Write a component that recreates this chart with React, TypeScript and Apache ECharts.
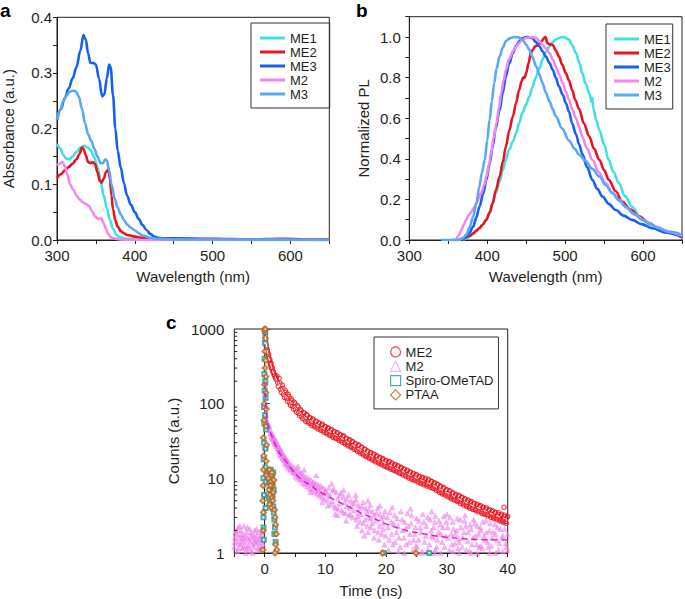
import React, { useEffect, useRef } from 'react';
import * as echarts from 'echarts';

const FONT = '"Liberation Sans", Arial, Helvetica, sans-serif';
const INK = '#231f20';

// ---------- Panel a: absorbance [nm, a.u.] ----------
const absME1 = [[300,0.173],[304,0.165],[308,0.153],[312,0.146],[316,0.145],[320,0.15],[325,0.158],[330,0.166],[335,0.169],[340,0.166],[344,0.16],[348,0.148],[352,0.131],[356,0.106],[360,0.08],[364,0.058],[368,0.036],[372,0.02],[376,0.01],[380,0.005],[390,0.002],[400,0.001],[450,0],[500,0],[550,0],[600,0],[650,0]];
const absME2 = [[300,0.111],[305,0.118],[310,0.125],[315,0.131],[320,0.137],[325,0.145],[329,0.155],[332,0.166],[334,0.164],[337,0.152],[340,0.14],[343,0.138],[346,0.14],[349,0.136],[352,0.122],[355,0.106],[357,0.103],[360,0.11],[363,0.122],[366,0.127],[368,0.11],[370,0.08],[372,0.055],[375,0.035],[378,0.024],[382,0.016],[386,0.012],[390,0.009],[400,0.006],[410,0.004],[420,0.003],[450,0.003],[470,0.002],[500,0.002],[550,0.001],[590,0.002],[620,0.001],[650,0.001]];
const absME3 = [[300,0.215],[305,0.235],[310,0.255],[315,0.272],[320,0.29],[325,0.31],[330,0.34],[334,0.368],[337,0.36],[340,0.335],[343,0.318],[347,0.318],[350,0.315],[354,0.29],[358,0.258],[361,0.262],[364,0.29],[367,0.315],[369,0.31],[372,0.26],[375,0.2],[378,0.16],[382,0.13],[386,0.102],[390,0.08],[395,0.063],[400,0.05],[405,0.038],[410,0.027],[415,0.018],[420,0.011],[425,0.006],[430,0.004],[440,0.002],[450,0.003],[500,0.001],[600,0.001],[650,0]];
const absM2 = [[300,0.134],[303,0.137],[307,0.14],[310,0.133],[313,0.118],[317,0.1],[321,0.09],[325,0.08],[329,0.073],[333,0.068],[337,0.065],[341,0.061],[345,0.052],[349,0.042],[353,0.038],[357,0.039],[360,0.03],[363,0.02],[366,0.01],[370,0.004],[380,0.001],[400,0],[500,0],[650,0]];
const absM3 = [[300,0.216],[304,0.234],[308,0.249],[312,0.259],[316,0.266],[320,0.268],[324,0.267],[328,0.258],[332,0.236],[336,0.21],[340,0.19],[344,0.178],[348,0.164],[352,0.15],[356,0.138],[359,0.138],[362,0.145],[364,0.143],[367,0.125],[370,0.1],[374,0.075],[378,0.058],[382,0.046],[386,0.036],[390,0.028],[395,0.022],[400,0.017],[405,0.012],[410,0.008],[420,0.004],[430,0.002],[450,0.001],[650,0]];

// ---------- Panel b: normalized PL [nm, PL] ----------
const plME1 = [[369,0],[373,0.006],[377,0.016],[382,0.03],[386,0.049],[390,0.06],[394,0.074],[398,0.1],[403,0.132],[407,0.18],[411,0.23],[416,0.29],[420,0.345],[424,0.395],[428,0.444],[433,0.485],[437,0.526],[441,0.575],[445,0.625],[450,0.668],[454,0.707],[458,0.752],[462,0.798],[467,0.845],[471,0.888],[475,0.925],[480,0.954],[484,0.975],[488,0.987],[492,0.995],[496,1.0],[500,0.997],[505,0.987],[509,0.96],[514,0.921],[518,0.875],[522,0.822],[526,0.772],[531,0.724],[534,0.68],[535,0.7],[536,0.65],[540,0.59],[544,0.54],[550,0.47],[556,0.395],[562,0.335],[569,0.28],[577,0.215],[586,0.164],[596,0.115],[607,0.082],[620,0.055],[635,0.037],[650,0.025]];
const plME2 = [[364,0],[369,0.005],[373,0.013],[378,0.022],[382,0.033],[386,0.045],[390,0.058],[394,0.075],[399,0.099],[403,0.135],[407,0.181],[411,0.245],[416,0.3125],[420,0.385],[424,0.46],[428,0.535],[433,0.609],[437,0.675],[441,0.74],[444,0.78],[446,0.8],[448,0.8],[450,0.822],[453,0.87],[456,0.92],[459,0.94],[462,0.955],[465,0.96],[467,0.967],[470,0.98],[473,0.995],[475,1.0],[477,0.97],[480,0.965],[484,0.962],[488,0.935],[492,0.905],[496,0.865],[501,0.822],[505,0.785],[509,0.74],[513,0.69],[518,0.645],[524,0.575],[531,0.51],[537,0.45],[544,0.395],[550,0.345],[556,0.296],[565,0.24],[573,0.189],[584,0.15],[595,0.115],[607,0.085],[620,0.058],[635,0.033],[650,0.013]];
const plME3 = [[356,0],[362,0],[368,0.006],[373,0.016],[377,0.035],[382,0.066],[386,0.11],[390,0.164],[395,0.23],[399,0.296],[403,0.375],[407,0.46],[411,0.55],[416,0.641],[420,0.725],[424,0.806],[428,0.868],[433,0.921],[437,0.955],[441,0.979],[445,0.993],[450,1.0],[454,0.999],[458,0.995],[462,0.977],[467,0.954],[471,0.93],[475,0.905],[480,0.872],[484,0.839],[488,0.8],[492,0.757],[497,0.715],[501,0.674],[505,0.632],[509,0.575],[514,0.52],[518,0.47],[522,0.425],[528,0.36],[535,0.296],[541,0.253],[548,0.214],[556,0.178],[565,0.148],[575,0.12],[586,0.099],[598,0.078],[612,0.058],[630,0.036],[650,0.016]];
const plM2 = [[360,0],[363,0.02],[367,0.049],[370,0.075],[373,0.099],[376,0.12],[380,0.14],[383,0.16],[386,0.181],[389,0.205],[392,0.23],[396,0.27],[399,0.3125],[402,0.37],[405,0.428],[408,0.5],[412,0.576],[415,0.65],[418,0.724],[421,0.785],[424,0.839],[428,0.89],[433,0.929],[437,0.952],[441,0.97],[445,0.985],[450,0.995],[456,1.0],[463,0.995],[467,0.98],[471,0.962],[475,0.944],[480,0.921],[484,0.89],[488,0.855],[492,0.818],[497,0.773],[501,0.73],[505,0.691],[509,0.645],[514,0.6],[518,0.555],[522,0.51],[528,0.45],[535,0.395],[543,0.335],[552,0.28],[560,0.235],[569,0.197],[579,0.158],[590,0.123],[603,0.092],[616,0.066],[633,0.04],[650,0.02]];
const plM3 = [[341,0],[355,0],[364,0],[368,0.008],[373,0.025],[377,0.06],[382,0.115],[386,0.18],[390,0.263],[393,0.33],[397,0.395],[400,0.49],[403,0.592],[406,0.685],[409,0.773],[412,0.845],[416,0.905],[420,0.948],[424,0.979],[428,0.992],[433,0.999],[437,1.0],[441,0.997],[446,0.984],[450,0.962],[454,0.938],[458,0.9],[463,0.855],[467,0.815],[471,0.773],[475,0.728],[480,0.683],[484,0.645],[488,0.61],[496,0.55],[505,0.49],[512,0.45],[518,0.42],[526,0.39],[535,0.35],[544,0.3125],[552,0.27],[561,0.23],[569,0.195],[578,0.164],[588,0.13],[599,0.099],[610,0.077],[620,0.058],[635,0.04],[650,0.025]];

// ---------- Panel c: time-resolved PL [ns, counts] ----------
const trME2 = [[0,1000],[0.05,900],[0.1,800],[0.15,700],[0.2,640],[0.3,560],[0.4,500],[0.5,470],[0.6,430],[0.7,400],[0.8,375],[0.9,350],[1.0,330],[1.1,310],[1.2,290],[1.35,270],[1.5,250],[1.65,235],[1.8,222],[1.9,212],
[0.25,600],[0.45,520],[0.65,450],[0.85,390],[1.05,345],[1.25,300],[1.45,265],[1.7,240],
[2,235],[2.5,188],[3,160],[3.5,141],[4,124],[4.5,109],[5,99],[5.5,90],[6,80],[6.5,75],[7,70],[7.5,64],[8,62],[8.5,58],[9,55],[9.5,53],[10,49],[10.5,47],[11,45],[11.5,42],[12,41],[12.5,38],[13,37],[13.5,34],[14,33],[14.5,31],[15,29],[15.5,28],[16,26],[16.5,24.5],[17,23],[17.5,22],[18,21],[18.5,20],[19,19],[19.5,18.3],[20,17.3],[20.5,16.8],[21,16],[21.5,15.3],[22,14.7],[22.5,14],[23,13.3],[23.5,12.8],[24,12.1],[24.5,11.6],[25,11.2],[25.5,10.6],[26,10.3],[26.5,10],[27,9.7],[27.5,9.1],[28,8.7],[28.5,8.3],[29,7.8],[29.5,7.5],[30,7.0],[30.5,6.8],[31,6.4],[31.5,6.1],[32,5.9],[32.5,5.6],[33,5.3],[33.5,5.1],[34,4.9],[34.5,4.6],[35,4.5],[35.5,4.3],[36,4.1],[36.5,4.0],[37,3.8],[37.5,3.7],[38,3.5],[38.5,3.45],[39,3.3],[39.5,3.2],[40,3.1],
[2.25,170],[2.75,142],[3.25,122],[3.75,108],[4.25,95],[4.75,85],[5.25,77],[5.75,69],[6.25,63],[6.75,58],[7.25,55],[7.75,51],[8.25,49],[8.75,46],[9.25,44],[9.75,41.5],[10.25,39.5],[10.75,37.5],[11.25,35.5],[11.75,34],[12.25,32],[12.75,30.5],[13.25,29],[13.75,27.3],[14.25,26],[14.75,24.5],[15.25,23],[15.75,21.8],[16.25,20.5],[16.75,19.4],[17.25,18.5],[17.75,17.6],[18.25,16.7],[18.75,16],[19.25,15.2],[19.75,14.5],[20.25,13.9],[20.75,13.3],[21.25,12.8],[21.75,12.2],[22.25,11.7],[22.75,11.1],[23.25,10.6],[23.75,10.1],[24.25,9.7],[24.75,9.3],[25.25,8.9],[25.75,8.5],[26.25,8.2],[26.75,7.9],[27.25,7.6],[27.75,7.3],[28.25,6.9],[28.75,6.5],[29.25,6.2],[29.75,5.9],[30.25,5.6],[30.75,5.3],[31.25,5.1],[31.75,4.9],[32.25,4.6],[32.75,4.4],[33.25,4.2],[33.75,4.0],[34.25,3.85],[34.75,3.7],[35.25,3.55],[35.75,3.4],[36.25,3.3],[36.75,3.15],[37.25,3.0],[37.75,2.9],[38.25,2.8],[38.75,2.7],[39.25,2.6],[39.75,2.5],
[2.37,218],[2.87,177],[3.37,151],[3.87,133],[4.37,116],[4.87,104],[5.37,94],[5.87,84],[6.37,76],[6.87,71],[7.37,65.5],[7.87,61],[8.37,58],[8.87,55],[9.37,52],[9.87,49.4],[10.37,46.8],[10.87,44.4],[11.37,42.1],[11.87,40.2],[12.37,38.5],[12.87,36.4],[13.37,34.3],[13.87,32.4],[14.37,30.7],[14.87,29.1],[15.37,27.6],[15.87,26],[16.37,24.4],[16.87,23.1],[17.37,21.8],[17.87,20.8],[18.37,19.8],[18.87,18.8],[19.37,18],[19.87,17.2],[20.37,16.4],[20.87,15.7],[21.37,15.1],[21.87,14.5],[22.37,13.8],[22.87,13.2],[23.37,12.6],[23.87,12],[24.37,11.4],[24.87,10.9],[25.37,10.5],[25.87,10.1],[26.37,9.7],[26.87,9.4],[27.37,9.0],[27.87,8.6],[28.37,8.2],[28.87,7.8],[29.37,7.4],[29.87,7.0],[30.37,6.7],[30.87,6.3],[31.37,6.0],[31.87,5.8],[32.37,5.5],[32.87,5.25],[33.37,5.0],[33.87,4.8],[34.37,4.6],[34.87,4.4],[35.37,4.2],[35.87,4.05],[36.37,3.9],[36.87,3.75],[37.37,3.6],[37.87,3.45],[38.37,3.3],[38.87,3.2],[39.37,3.1],[39.87,3.0],
[2.12,193],[2.62,156],[3.12,133],[3.62,118],[4.12,103],[4.62,92],[5.12,83],[5.62,74.5],[6.12,67],[6.62,62.5],[7.12,58],[7.62,54.3],[8.12,51.5],[8.62,48.8],[9.12,46],[9.62,43.7],[10.12,41.4],[10.62,39.3],[11.12,37.3],[11.62,35.6],[12.12,34],[12.62,32.2],[13.12,30.4],[13.62,28.7],[14.12,27.1],[14.62,25.8],[15.12,24.4],[15.62,23],[16.12,21.6],[16.62,20.4],[17.12,19.3],[17.62,18.4],[18.12,17.5],[18.62,16.7],[19.12,15.9],[19.62,15.2],[20.12,14.5],[20.62,13.9],[21.12,13.3],[21.62,12.8],[22.12,12.2],[22.62,11.7],[23.12,11.1],[23.62,10.6],[24.12,10.1],[24.62,9.7],[25.12,9.3],[25.62,8.9],[26.12,8.6],[26.62,8.3],[27.12,8.0],[27.62,7.6],[28.12,7.3],[28.62,6.9],[29.12,6.5],[29.62,6.2],[30.12,5.9],[30.62,5.6],[31.12,5.3],[31.62,5.1],[32.12,4.9],[32.62,4.65],[33.12,4.4],[33.62,4.2],[34.12,4.05],[34.62,3.85],[35.12,3.7],[35.62,3.6],[36.12,3.45],[36.62,3.3],[37.12,3.2],[37.62,3.05],[38.12,2.95],[38.62,2.85],[39.12,2.75],[39.62,2.65],
[39.4,4.1],[-0.05,6],[0.05,25]];
const fitME2 = [[0.1,800],[0.5,480],[1,330],[1.5,250],[2,205],[3,145],[4,112],[5,90],[6,73],[7,63],[8,56],[9,50],[10,45],[12,37],[14,29.5],[16,23.5],[18,19],[20,15.8],[22,13.3],[24,11],[26,9.3],[28,7.9],[30,6.4],[32,5.3],[34,4.4],[36,3.75],[38,3.2],[40,2.8]];
const trM2 = [[-5,1.2],[-4.8,1.9],[-4.7,1.45],[-4.5,1.05],[-4.4,2.2],[-4.2,1.6],[-4.0,1.3],[-3.9,2.0],[-3.7,1.15],[-3.6,1.75],[-3.4,2.3],[-3.3,1.45],[-3.1,1.0],[-3.0,1.9],[-2.8,1.6],[-2.7,1.25],[-2.5,2.1],[-2.4,1.4],[-2.2,1.05],[-2.1,1.8],[-1.9,1.55],[-1.8,1.2],[-1.6,2.0],[-1.5,1.35],[-1.3,1.7],[-1.2,1.1],[-1.0,1.9],[-0.9,1.5],[-0.7,1.25],[-0.6,1.75],[-0.4,1.4],[-0.3,2.0],[-4.9,1.6],[-4.3,1.35],[-3.8,1.55],[-3.2,1.7],[-2.6,1.5],[-2.0,1.3],[-1.4,1.5],[-0.8,1.1],[-0.2,1.6],[-4.6,1.75],[-3.5,1.2],[-2.3,1.65],[-1.1,1.4],[-0.5,1.15],
[-4.95,1.4],[-4.65,2.0],[-4.35,1.15],[-4.05,1.8],[-3.75,1.4],[-3.45,1.6],[-3.15,1.25],[-2.85,2.2],[-2.55,1.15],[-2.25,1.9],[-1.95,1.0],[-1.65,1.45],[-1.35,2.1],[-1.05,1.2],[-0.75,1.6],[-0.45,1.9],[-0.25,1.3],[-4.1,2.3],[-3.0,1.1],[-1.7,1.7],
[0,190],[0.05,150],[0.1,120],[0.15,95],[0.2,80],[0.25,70],[0.3,62],[0.35,58],[0.4,55],[-0.05,8],[-0.1,4],[0.05,12],
[0.5,52],[0.6,48],[0.7,45],[0.8,50],[0.9,40],[1.0,43],[1.1,36],[1.2,40],[1.3,33],[1.4,37],[1.5,31],[1.6,35],[1.7,29],[1.8,32],[1.9,27],[2.0,30],
[1.05,39],[1.25,35],[1.45,34],[1.65,31],[1.85,29],[2.05,27],[2.25,25],[2.45,23],[2.65,22],[2.85,20.5],[3.05,19],[3.25,18],[3.45,17],[3.65,16],[3.85,15],[4.1,14.5],[4.3,13.8],[4.5,13.2],[4.7,12.6],[4.9,12.2],
[2.1,25],[2.2,28],[2.3,23],[2.4,26],[2.5,21],[2.6,24],[2.7,20],[2.8,23],[2.9,18.5],[3.0,21],[3.1,17.5],[3.2,20],[3.3,16],[3.4,19],[3.5,15.5],[3.6,18],[3.7,14.5],[3.8,17],[3.9,13.5],[4.0,16],[4.2,13],[4.4,15],[4.6,12],[4.8,14],[5.0,11.5],
[5.2,13.5],[5.4,10],[5.6,12.5],[5.8,9.5],[6.0,12],[6.2,8.7],[6.4,11],[6.6,8.3],[6.8,10.5],[7.0,7.8],[7.2,10],[7.4,7.3],[7.6,9.5],[7.8,7],[8.0,9],[8.2,6.6],[8.4,8.6],[8.6,6.2],[8.8,8.2],[9.0,5.9],[9.2,7.9],[9.4,5.6],[9.6,7.5],[9.8,5.3],[10.0,7.1],[5.5,14.5],[6.5,13],[7.5,6.5],[8.5,11],[9.5,4.8],
[5.1,10.5],[5.3,12],[5.7,10.8],[5.9,11.5],[6.1,9.8],[6.3,10.2],[6.7,9.4],[6.9,8.8],[7.1,9.2],[7.3,8.5],[7.7,8.2],[7.9,8.6],[8.1,7.5],[8.3,7.9],[8.7,7.2],[8.9,6.8],[9.1,7.0],[9.3,6.4],[9.7,6.3],[9.9,6.7],
[10.3,5],[10.6,7.5],[10.9,4.5],[11.2,6.8],[11.5,4.2],[11.8,6.5],[12.1,3.9],[12.4,6],[12.7,3.7],[13,5.6],[13.3,3.4],[13.6,5.3],[13.9,3.2],[14.2,5],[14.5,3.0],[14.8,4.7],[15.1,2.8],[15.4,4.4],[15.7,2.6],[16,4.2],[16.3,2.5],[16.6,4],[16.9,2.3],[17.2,3.8],[17.5,2.2],[17.8,3.6],[18.1,2.0],[18.4,3.4],[18.7,1.9],[19,3.3],[19.3,1.8],[19.6,3.1],[19.9,1.7],[11,8.5],[13,7],[15,6],[17,5],[19,4.3],[12,3.2],[16,2.0],[18,1.6],[14,4.0],[10.5,6.0],[15.5,3.5],[17.5,2.9],[19.5,2.5],
[10.1,6.5],[10.4,4.3],[10.8,5.8],[11.1,4.9],[11.4,7.2],[11.7,4.0],[12.0,5.4],[12.3,4.6],[12.6,6.4],[12.9,3.5],[13.2,4.8],[13.5,4.2],[13.8,6.0],[14.1,3.3],[14.4,4.5],[14.7,3.7],[15.0,5.2],[15.3,3.1],[15.6,4.0],[15.9,3.3],[16.2,4.8],[16.5,2.8],[16.8,3.6],[17.1,3.0],[17.4,4.4],[17.7,2.5],[18.0,3.2],[18.3,2.7],[18.6,4.0],[18.9,2.3],[19.2,2.9],[19.5,2.1],[19.8,3.6],[13.4,2.7],[15.2,2.3],[17.0,1.9],[18.8,1.5],[11.6,3.3],[16.4,1.7],[19.7,1.3],
[20.2,3],[20.5,1.5],[20.8,2.6],[21.1,1.3],[21.4,3.2],[21.7,1.9],[22,2.3],[22.3,1.2],[22.6,2.8],[22.9,1.6],[23.2,2.1],[23.5,3.4],[23.8,1.4],[24.1,2.5],[24.4,1.1],[24.7,1.8],[25,2.9],[25.3,1.5],[25.6,2.2],[25.9,1.05],[26.2,2.6],[26.5,1.7],[26.8,3.0],[27.1,1.3],[27.4,2.0],[27.7,1.6],[28,2.6],[28.3,1.2],[28.6,1.9],[28.9,2.4],[29.2,1.4],[29.5,3.1],[29.8,1.7],[30.1,2.2],[30.4,1.1],[30.7,1.8],[31,2.6],[31.3,1.35],[31.6,2.0],[31.9,1.55],[32.2,2.8],[32.5,1.2],[32.8,1.9],[33.1,2.3],[33.4,1.45],[33.7,1.05],[34,2.1],[34.3,1.6],[34.6,2.5],[34.9,1.3],[35.2,1.8],[35.5,2.2],[35.8,1.15],[36.1,1.7],[36.4,2.7],[36.7,1.4],[37,2.0],[37.3,1.25],[37.6,1.9],[37.9,2.4],[38.2,1.5],[38.5,1.1],[38.8,2.1],[39.1,1.6],[39.4,2.6],[39.7,1.35],[40,1.8],[21,4.1],[24,3.9],[27.5,3.6],[30,3.3],[33,3.2],[36,3.4],[39,3.0],[23,1.0],[26,1.0],[29,1.0],[32,1.0],[35,1.0],[38,1.0],[20.4,1.1],[24.9,1.25],[28.1,1.1],[31.8,1.15],[35.6,1.25],[39.2,1.05],
[20.3,2.2],[20.6,3.5],[20.9,1.8],[21.2,2.5],[21.5,1.4],[21.8,2.9],[22.1,1.6],[22.4,3.6],[22.7,2.0],[23.0,2.6],[23.3,1.3],[23.6,2.3],[23.9,1.8],[24.2,3.2],[24.5,1.5],[24.8,2.2],[25.1,1.2],[25.4,2.7],[25.7,1.9],[26.0,3.3],[26.3,1.4],[26.6,2.3],[26.9,1.1],[27.2,2.8],[27.5,1.7],[27.8,2.2],[28.1,3.1],[28.4,1.5],[28.7,2.7],[29.0,1.8],[29.3,2.2],[29.6,1.2],[29.9,2.6],[30.2,1.6],[30.5,3.0],[30.8,1.3],[31.1,2.1],[31.4,1.8],[31.7,2.9],[32.0,1.4],[32.3,2.2],[32.6,1.6],[32.9,2.7],[33.2,1.1],[33.5,1.9],[33.8,2.4],[34.1,1.3],[34.4,2.8],[34.7,1.7],[35.0,2.3],[35.3,1.2],[35.6,2.0],[35.9,2.6],[36.2,1.5],[36.5,1.9],[36.8,1.2],[37.1,2.5],[37.4,1.6],[37.7,3.0],[38.0,1.8],[38.3,2.2],[38.6,1.35],[38.9,2.7],[39.2,1.7],[39.5,2.1],[39.8,1.2],[22,1.05],[25,1.0],[28,1.0],[31,1.05],[34,1.0],[37,1.0],[40,1.1]];
const fitM2 = [[0.05,190],[0.2,90],[0.4,60],[0.7,48],[1.0,40],[1.6,30],[2.4,22],[3.3,17.8],[4.4,13.5],[5.5,10.6],[6.6,9],[7.8,7.8],[9,6.6],[10,6.0],[12,4.9],[14,4.1],[16,3.4],[18,2.9],[20,2.45],[22,2.15],[24,1.95],[26,1.82],[28,1.7],[30,1.62],[32,1.57],[34,1.53],[36,1.51],[38,1.5],[40,1.5]];
const trSpiro = [[-0.15,1.5],[-0.2,3],[-0.1,6],[-0.2,10],[-0.15,18],[-0.1,30],[-0.05,55],[-0.1,90],[0,150],[-0.05,250],[0,400],[0.05,650],[0.1,900],[0.1,200],[0.15,120],[0.05,70],[0.2,45],[0.15,25],[0.1,14],[0.2,9],[-0.2,2.2],[0.15,4],
[0.6,12],[0.7,9],[0.8,11],[0.9,7],[1.0,13],[1.1,8],[1.2,10],[1.3,6],[1.4,12],[0.7,5.5],[1.0,4.8],[1.3,9],[1.5,7],[1.4,4.2],[0.9,5],
[1.5,3.5],[1.6,2.8],[1.7,2.2],[1.6,1.8],[1.8,1.4],[19.6,1],[27.1,1]];
const trPTAA = [[-0.3,1.1],[-0.25,2],[-0.2,3.5],[-0.3,5],[-0.25,8],[-0.2,13],[-0.15,20],[-0.2,35],[-0.1,60],[-0.05,100],[0,180],[0.05,300],[0.05,500],[0.1,750],[0,950],[0.1,1000],[0.15,380],[0.2,230],[0.2,140],[0.25,85],[0.2,50],[0.3,28],[0.25,17],[0.3,11],
[0.6,10],[0.7,7],[0.8,13],[0.9,6],[1.0,9],[1.1,11],[1.2,5.5],[1.3,8],[1.4,6.5],[1.5,9.5],[0.8,4.5],[1.1,4],[1.2,12],[0.95,8],[1.35,5],
[1.6,3.8],[1.7,3.0],[1.8,2.4],[1.9,1.8],[1.8,1.3],[2.0,1.1],[1.7,1.0],[19.4,1],[24.9,1]];
const logMinorTicks = [2,3,4,5,6,7,8,9,20,30,40,50,60,70,80,90,200,300,400,500,600,700,800,900];
const lifetimeLabels = [
  { t: 22.3, c: 23.4, text: '2.1 ns', color: '#e8141e' },
  { t: 15.7, c: 7.6, text: '0.2 ns', color: '#f27ff0' },
];

const COLORS: Record<string, string> = {
  ME1: '#40e0e0', ME2: '#e8141e', ME3: '#1560f0', M2: '#f584f0', M3: '#5aa8f5',
};
const C_M2PTS = '#f59cf2';
const C_SPIRO = '#22999a';
const C_PTAA = '#b5651d';
const C_M2FIT = '#d01cd0';

const lineNames = ['ME1', 'ME2', 'ME3', 'M2', 'M3'];

function axisBase(gridIndex: number) {
  return {
    gridIndex,
    axisLine: { show: true, lineStyle: { color: INK, width: 1 } },
    axisTick: { show: true, inside: false, length: 4, lineStyle: { color: INK } },
    splitLine: { show: false },
    nameLocation: 'middle',
    nameTextStyle: { fontSize: 15, color: INK, fontFamily: FONT },
  };
}

const isMult = (v: number, step: number) => Math.abs(v / step - Math.round(v / step)) < 1e-6;

export default function App() {
  const ref = useRef<HTMLDivElement>(null);
  useEffect(() => {
    if (!ref.current) return;
    const chart = echarts.init(ref.current, undefined, { renderer: 'svg' });
    const labelStyle = { fontSize: 15, color: INK, fontFamily: FONT };

    const lineSeries = (data: number[][], name: string, axis: number) => ({
      type: 'line', name, xAxisIndex: axis, yAxisIndex: axis, data,
      symbol: 'none', smooth: 0.35, smoothMonotone: 'x',
      lineStyle: { color: COLORS[name], width: 2.6 }, itemStyle: { color: COLORS[name] },
      silent: true,
    });

    const absData = [absME1, absME2, absME3, absM2, absM3];
    const plData = [plME1, plME2, plME3, plM2, plM3];

    const option: any = {
      animation: false,
      backgroundColor: '#fff',
      textStyle: { fontFamily: FONT },
      grid: [
        { left: 56.7, top: 17.3, width: 272.6, height: 222.7, show: true, borderColor: INK, borderWidth: 1, backgroundColor: 'transparent' },
        { left: 409.3, top: 16.7, width: 276, height: 223.3, show: true, borderColor: INK, borderWidth: 1, backgroundColor: 'transparent' },
        { left: 234.3, top: 329, width: 273.4, height: 224.3, show: true, borderColor: INK, borderWidth: 1, backgroundColor: 'transparent' },
      ],
      xAxis: [
        { ...axisBase(0), type: 'value', min: 300, max: 650, interval: 50, name: 'Wavelength (nm)', nameGap: 29,
          axisLabel: { ...labelStyle, margin: 8, formatter: (v: number) => (isMult(v, 100) ? String(v) : '') } },
        { ...axisBase(1), type: 'value', min: 300, max: 650, interval: 50, name: 'Wavelength (nm)', nameGap: 29,
          axisLabel: { ...labelStyle, margin: 8, formatter: (v: number) => (isMult(v, 100) ? String(v) : '') } },
        { ...axisBase(2), type: 'value', min: -5, max: 40, interval: 5, name: 'Time (ns)', nameGap: 30,
          axisLabel: { ...labelStyle, margin: 8, formatter: (v: number) => (isMult(v, 10) ? String(v) : '') } },
      ],
      yAxis: [
        { ...axisBase(0), type: 'value', min: 0, max: 0.4, interval: 0.05, name: 'Absorbance (a.u.)', nameGap: 41,
          axisLabel: { ...labelStyle, margin: 5, formatter: (v: number) => (isMult(v, 0.1) ? v.toFixed(1) : '') } },
        { ...axisBase(1), type: 'value', min: 0, max: 1.1, interval: 0.1, name: 'Normalized PL', nameGap: 38,
          axisLabel: { ...labelStyle, margin: 8.5, formatter: (v: number) => (isMult(v, 0.2) && v < 1.05 ? v.toFixed(1) : '') } },
        { ...axisBase(2), type: 'log', logBase: 10, min: 1, max: 1000, name: 'Counts (a.u.)', nameGap: 53,
          axisTick: { show: true, inside: true, length: 5, lineStyle: { color: INK } },
          axisLabel: { ...labelStyle, margin: 10, formatter: (v: number) => String(Math.round(v)) } },
      ],
      legend: [
        { orient: 'vertical', left: 251, top: 23, data: lineNames, icon: 'rect', itemWidth: 25, itemHeight: 3, itemGap: 0,
          padding: [8, 13, 7, 9], borderColor: '#333', borderWidth: 1, selectedMode: false,
          textStyle: { fontSize: 13, color: INK, fontFamily: FONT, lineHeight: 14 } },
        { orient: 'vertical', left: 606, top: 24, data: lineNames, icon: 'rect', itemWidth: 25, itemHeight: 3, itemGap: 0,
          padding: [8, 2, 7, 8], borderColor: '#333', borderWidth: 1, selectedMode: false,
          textStyle: { fontSize: 13, color: INK, fontFamily: FONT, lineHeight: 14 } },
        { orient: 'vertical', left: 374, top: 337, itemWidth: 10, itemHeight: 10, itemGap: 0.3,
          padding: [8, 5, 7, 16], borderColor: '#333', borderWidth: 1, selectedMode: false,
          formatter: (n: string) => n.replace(/^c:/, ''),
          textStyle: { fontSize: 13, color: INK, fontFamily: FONT, lineHeight: 14 },
          data: [
            { name: 'c:ME2', icon: 'circle', itemStyle: { color: '#fff', borderColor: COLORS.ME2, borderWidth: 1.2 } },
            { name: 'c:M2', icon: 'triangle', itemStyle: { color: '#fff', borderColor: C_M2PTS, borderWidth: 1.2 } },
            { name: 'c:Spiro-OMeTAD', icon: 'rect', itemStyle: { color: '#fff', borderColor: C_SPIRO, borderWidth: 1.2 } },
            { name: 'c:PTAA', icon: 'diamond', itemStyle: { color: '#fff', borderColor: C_PTAA, borderWidth: 1.2 } },
          ] },
      ],
      graphic: [
        { type: 'text', left: 0, top: 1, style: { text: 'a', font: `bold 19px ${FONT}`, fill: '#000' } },
        { type: 'text', left: 356, top: 1, style: { text: 'b', font: `bold 19px ${FONT}`, fill: '#000' } },
        { type: 'text', left: 166, top: 313, style: { text: 'c', font: `bold 19px ${FONT}`, fill: '#000' } },
      ],
      series: [
        ...lineNames.map((n, i) => lineSeries(absData[i], n, 0)),
        ...lineNames.map((n, i) => lineSeries(plData[i], n, 1)),
        { type: 'scatter', name: 'c:M2', xAxisIndex: 2, yAxisIndex: 2, data: trM2, symbol: 'triangle', symbolSize: 5,
          itemStyle: { color: 'rgba(242,130,236,0.75)', borderColor: 'rgba(236,110,230,0.85)', borderWidth: 0.5 }, silent: true, z: 2 },
        { type: 'scatter', name: 'c:ME2', xAxisIndex: 2, yAxisIndex: 2, data: trME2, symbol: 'circle', symbolSize: 4.5,
          itemStyle: { color: 'rgba(255,255,255,0)', borderColor: COLORS.ME2, borderWidth: 1.1 }, silent: true, z: 3 },
        { type: 'scatter', name: 'c:Spiro-OMeTAD', xAxisIndex: 2, yAxisIndex: 2, data: trSpiro, symbol: 'emptyRect', symbolSize: 4,
          itemStyle: { color: C_SPIRO, borderWidth: 0.9 }, silent: true, z: 4 },
        { type: 'scatter', name: 'c:PTAA', xAxisIndex: 2, yAxisIndex: 2, data: trPTAA, symbol: 'emptyDiamond', symbolSize: 5,
          itemStyle: { color: C_PTAA, borderWidth: 0.9 }, silent: true, z: 5 },
        { type: 'line', name: 'fitME2', xAxisIndex: 2, yAxisIndex: 2, data: fitME2, symbol: 'none', smooth: 0.4,
          lineStyle: { color: '#ffffff', width: 1, type: [4, 3] }, silent: true, z: 6 },
        { type: 'line', name: 'fitM2', xAxisIndex: 2, yAxisIndex: 2, data: fitM2, symbol: 'none', smooth: 0.4,
          lineStyle: { color: C_M2FIT, width: 1.4, type: [6, 4] }, silent: true, z: 6 },
        ...lifetimeLabels.map((l) => ({
          type: 'scatter', name: 'lbl' + l.text, xAxisIndex: 2, yAxisIndex: 2, data: [[l.t, l.c]], symbolSize: 1,
          itemStyle: { opacity: 0 }, silent: true, z: 7,
          label: { show: true, position: 'inside', formatter: l.text, color: l.color, fontSize: 13, fontFamily: FONT },
        })),
        { type: 'custom', name: 'minorLogTicks', xAxisIndex: 2, yAxisIndex: 2, silent: true, z: 8, clip: false,
          data: logMinorTicks.map((v) => [-5, v]),
          renderItem: (_p: any, api: any) => {
            const p = api.coord([api.value(0), api.value(1)]);
            return { type: 'line', shape: { x1: p[0], y1: p[1], x2: p[0] + 3, y2: p[1] }, style: { stroke: INK, lineWidth: 1 } };
          } },
      ],
    };
    chart.setOption(option);
    return () => chart.dispose();
  }, []);
  return <div ref={ref} style={{ position: 'absolute', left: 0, top: 0, width: 685, height: 599 }} />;
}
